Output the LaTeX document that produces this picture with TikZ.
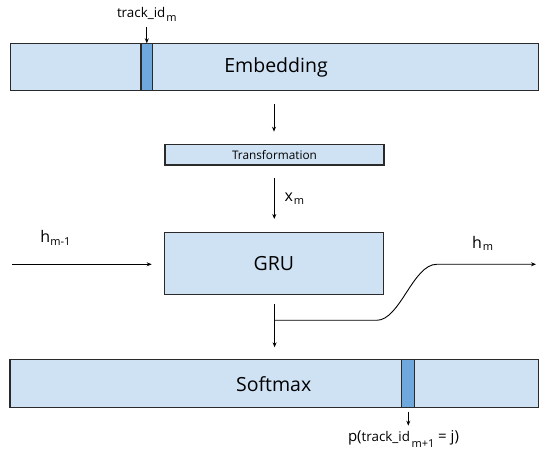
\documentclass[tikz,border=0pt]{standalone}
\usepackage{fontspec}
\setmainfont{Open Sans}
\usetikzlibrary{arrows.meta}
\definecolor{boxfill}{HTML}{CFE2F3}
\definecolor{cellfill}{HTML}{6FA8DC}
\definecolor{edge}{HTML}{2A2A2A}
\newcommand{\fs}[1]{\fontsize{#1}{#1}\selectfont}
\tikzset{
  blk/.style={draw=edge, fill=boxfill, line width=1.1pt, inner sep=0pt, outer sep=0pt},
  cellbox/.style={draw=edge, fill=cellfill, line width=1.1pt, inner sep=0pt, outer sep=0pt},
  conn/.style={line width=0.9pt, -{Stealth[length=5pt,width=4pt]}},
  lbl/.style={inner sep=0pt, outer sep=0pt, anchor=base west},
}
\begin{document}
\begin{tikzpicture}[x=1pt,y=-1pt]
\useasboundingbox (0,0) rectangle (550,457);
% boxes
\node[blk, minimum width=528pt, minimum height=47.6pt] (emb) at (274.2,67.1) {};
\node[cellbox, minimum width=11.7pt, minimum height=47.6pt] (cellA) at (146.8,67.1) {};
\node[inner sep=0pt] (embt) at (276,67.5) {\fs{19.5}Embedding};
\node[blk, minimum width=219pt, minimum height=20.7pt] (trans) at (274.5,154.7) {\fs{11.8}Transformation};
\node[blk, minimum width=219pt, minimum height=61.6pt] (gru) at (273.8,263.5) {\fs{19.5}GRU};
\node[blk, minimum width=528.5pt, minimum height=47.7pt] (soft) at (274.2,383.8) {};
\node[cellbox, minimum width=12.3pt, minimum height=47.7pt] (cellB) at (407.9,383.8) {};
\node[inner sep=0pt] (softt) at (273.7,384.5) {\fs{19.5}Softmax};
% coordinates
\coordinate (tidtop) at (146.8,27);
\coordinate (e1) at (274,104);
\coordinate (e2) at (274,131.7);
\coordinate (x1) at (274.3,178);
\coordinate (x2) at (274.3,219);
\coordinate (h1) at (12.3,264.3);
\coordinate (h2) at (151.7,264.3);
\coordinate (o1) at (274.6,304.3);
\coordinate (o2) at (274.6,347.3);
\coordinate (oj) at (274.6,320.3);
\coordinate (c1) at (376.7,320.3);
\coordinate (c2) at (436.7,264.3);
\coordinate (c3) at (536,264.3);
\coordinate (p1) at (408.3,411.7);
\coordinate (p2) at (408.3,425.7);
% connectors
\draw[conn] (tidtop) -- (cellA.north);
\draw[conn] (e1) -- (e2);
\draw[conn] (x1) -- (x2);
\draw[conn] (h1) -- (h2);
\draw[conn] (o1) -- (o2);
\draw[conn] (oj) -- (c1) .. controls (400,320.3) and (413,264.3) .. (c2) -- (c3);
\draw[conn] (p1) -- (p2);
% labels
\node[lbl] (ltid) at (117,18) {\fs{13.4}track\_id\hspace{1pt}\raisebox{-3.7pt}{\fs{11}m}};
\node[lbl] (lx) at (284.5,202) {\fs{16}x\hspace{1pt}\raisebox{-3pt}{\fs{11}m}};
\node[lbl] (lhm1) at (40.5,242.7) {\fs{16}h\raisebox{-3pt}{\fs{11}m-1}};
\node[lbl] (lhm) at (472.2,248.3) {\fs{16}h\hspace{0.8pt}\raisebox{-2pt}{\fs{11}m}};
\node[lbl] (lp) at (348,442) {\fs{15}p(\fs{13.4}track\_id\hspace{1.5pt}\raisebox{-6pt}{\fs{11}m+1}\fs{15} = j)};
\end{tikzpicture}
\end{document}
